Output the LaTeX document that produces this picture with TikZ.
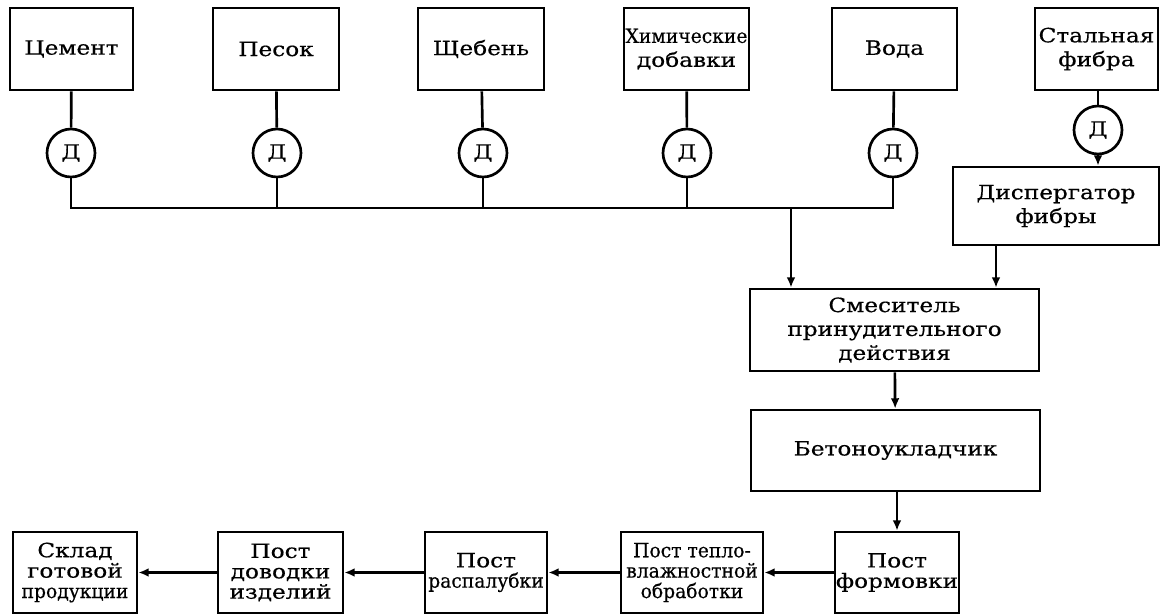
\documentclass[tikz,border=0pt]{standalone}
\usepackage{fontspec}
\setmainfont{DejaVu Serif}[FakeStretch=1.18, FakeBold=0.4]
\newfontfamily\plainserif[FakeStretch=0.95, FakeBold=0.4]{DejaVu Serif}
\usetikzlibrary{arrows.meta}
\tikzset{
  blok/.style={draw, line width=1.9pt, align=center, inner sep=0pt,
    font=\fontsize{14}{17}\selectfont},
  nizblok/.style={blok, minimum height=2.025cm,
    font=\fontsize{14}{14.5}\selectfont},
  dozator/.style={draw, circle, line width=1.9pt, minimum size=1.2cm,
    inner sep=0pt, font=\fontsize{14}{17}\selectfont},
  potok/.style={line width=1.9pt}
}

\begin{document}
\begin{tikzpicture}[>={Latex[length=2.6mm,width=2.2mm]}]
  \useasboundingbox (0,0) rectangle (29,-15.375);
  % components
  \node[blok, minimum width=3.075cm, minimum height=2.05cm] (cem) at (1.7875,-1.225) {Цемент};
  \node[blok, minimum width=3.15cm, minimum height=2.05cm] (pes) at (6.9,-1.225) {Песок};
  \node[blok, minimum width=3.15cm, minimum height=2.05cm] (scheb) at (12.025,-1.225) {Щебень};
  \node[blok, minimum width=3.125cm, minimum height=2.05cm] (him) at (17.1625,-1.225) {{\plainserif Химические}\\добавки};
  \node[blok, minimum width=3.125cm, minimum height=2.05cm] (voda) at (22.3625,-1.225) {Вода};
  \node[blok, minimum width=3.075cm, minimum height=2.05cm] (stal) at (27.4125,-1.225) {Стальная\\фибра};
  % dozatory
  \node[dozator] (d1) at (1.775,-3.825) {Д};
  \node[dozator] (d2) at (6.925,-3.825) {Д};
  \node[dozator] (d3) at (12.075,-3.825) {Д};
  \node[dozator] (d4) at (17.175,-3.825) {Д};
  \node[dozator] (d5) at (22.325,-3.825) {Д};
  \node[dozator] (d6) at (27.45,-3.25) {Д};
  % line
  \node[blok, minimum width=5.15cm, minimum height=1.95cm] (disp) at (26.4,-5.15) {Диспергатор\\фибры};
  \node[blok, minimum width=7.225cm, minimum height=2.05cm] (mix) at (22.3625,-8.25) {Смеситель\\принудительного\\действия};
  \node[blok, minimum width=7.225cm, minimum height=2.025cm] (beton) at (22.3875,-11.2625) {Бетоноукладчик};
  \node[nizblok, minimum width=3.1cm] (form) at (22.425,-14.3125) {Пост\\формовки};
  \node[nizblok, minimum width=3.55cm, font=\plainserif\fontsize{14}{14.5}\selectfont] (teplo) at (17.3,-14.3125) {Пост тепло-\\влажностной\\обработки};
  \node[nizblok, minimum width=3.05cm] (rasp) at (12.15,-14.3125) {Пост\\{\plainserif распалубки}};
  \node[nizblok, minimum width=3.125cm] (dovod) at (7.0125,-14.3125) {Пост\\доводки\\изделий};
  \node[nizblok, minimum width=3.1cm] (sklad) at (1.875,-14.3125) {Склад\\готовой\\{\plainserif продукции}};
  % collector
  \coordinate (bus) at (19.775,-5.2);
  \draw[potok] (cem) -- (d1);
  \draw[potok] (pes) -- (d2);
  \draw[potok] (scheb) -- (d3);
  \draw[potok] (him) -- (d4);
  \draw[potok] (voda) -- (d5);
  \draw[potok] (d1) -- (d1 |- bus) -- (d5 |- bus) -- (d5);
  \draw[potok] (d2) -- (d2 |- bus);
  \draw[potok] (d3) -- (d3 |- bus);
  \draw[potok] (d4) -- (d4 |- bus);
  \draw[potok, ->] (bus) -- (bus |- mix.north);
  % fibra
  \draw[potok] (d6 |- stal.south) -- (d6);
  \draw[potok, ->] (d6) -- (d6 |- disp.north);
  \draw[potok, ->] ([xshift=-1.5cm]disp.south) -- ([xshift=-1.5cm]disp.south |- mix.north);
  %
  \draw[potok, ->] (mix) -- (beton);
  \draw[potok, ->] (beton.south -| form) -- (form);
  \draw[potok, ->] (form) -- (teplo);
  \draw[potok, ->] (teplo) -- (rasp);
  \draw[potok, ->] (rasp) -- (dovod);
  \draw[potok, ->] (dovod) -- (sklad);
\end{tikzpicture}
\end{document}
